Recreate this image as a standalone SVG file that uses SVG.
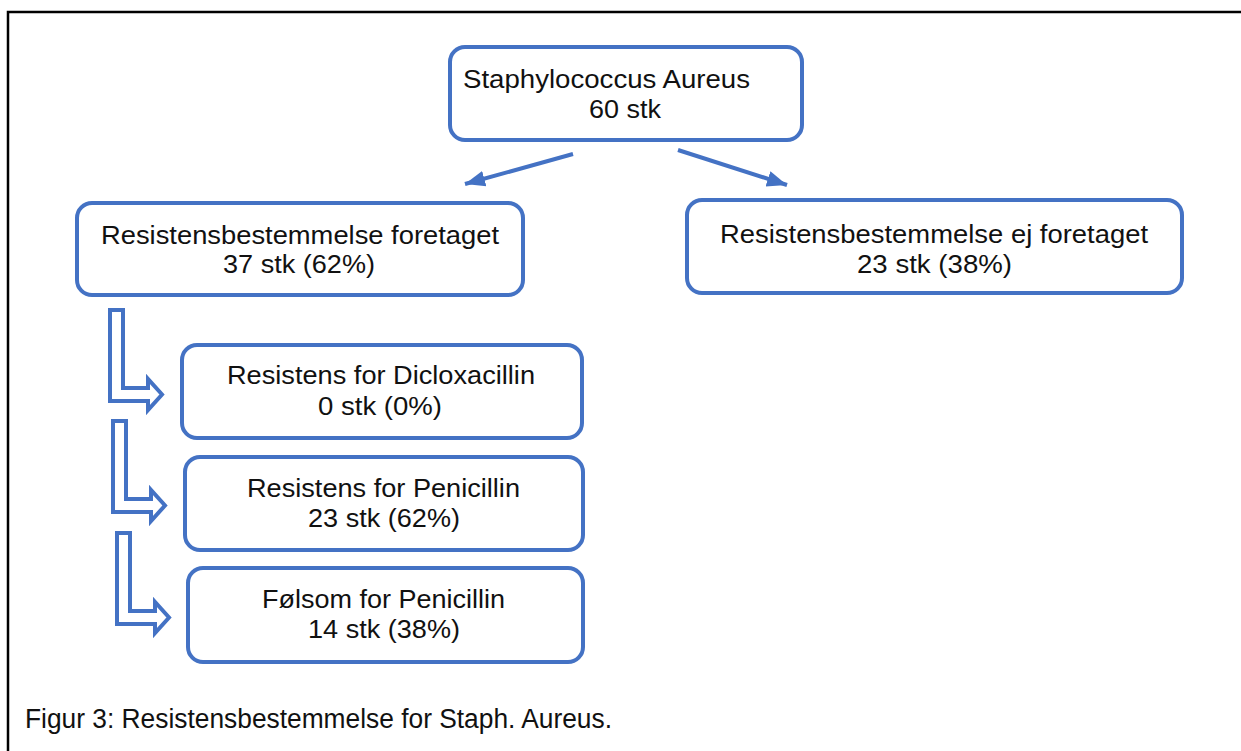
<svg xmlns="http://www.w3.org/2000/svg" width="1241" height="751" viewBox="0 0 1241 751">
<style>
.box{fill:#fff;stroke:#4472C4;stroke-width:4}
.t{font-family:"Liberation Sans",Arial,sans-serif;font-size:25.5px;fill:#111}
.cap{font-family:"Liberation Sans",Arial,sans-serif;font-size:27px;fill:#111}
.conn{stroke:#4472C4;stroke-width:4;fill:none}
.blk{fill:#fff;stroke:#4472C4;stroke-width:4;stroke-linejoin:miter}
</style>
<defs>
<marker id="ah" markerUnits="userSpaceOnUse" markerWidth="22" markerHeight="22" viewBox="0 0 22 22" refX="20" refY="11" orient="auto">
<path d="M0,3 L20,11 L0,19 Z" fill="#4472C4"/>
</marker>
</defs>
<rect width="1241" height="751" fill="#fff"/>
<path d="M8,760 L8,12 L1250,12" fill="none" stroke="#000" stroke-width="2.5"/>

<g id="connectors">
<line class="conn" x1="573" y1="154" x2="465" y2="184" marker-end="url(#ah)"/>
<line class="conn" x1="678" y1="150" x2="787" y2="185" marker-end="url(#ah)"/>
<path class="blk" d="M110,310 L123,310 L123,388 L148,388 L148,379 L162,394.5 L148,410 L148,401 L110,401 Z"/>
<path class="blk" transform="translate(3,111)" d="M110,310 L123,310 L123,388 L148,388 L148,379 L162,394.5 L148,410 L148,401 L110,401 Z"/>
<path class="blk" transform="translate(7,223)" d="M110,310 L123,310 L123,388 L148,388 L148,379 L162,394.5 L148,410 L148,401 L110,401 Z"/>
</g>

<g id="n-staph">
<rect class="box" x="450" y="47" width="352" height="93" rx="15"/>
<text class="t" x="463" y="88" textLength="287" lengthAdjust="spacingAndGlyphs">Staphylococcus Aureus</text>
<text class="t" x="589" y="118" textLength="72" lengthAdjust="spacingAndGlyphs">60 stk</text>
</g>

<g id="n-foretaget">
<rect class="box" x="77" y="203" width="446" height="92" rx="15"/>
<text class="t" x="101" y="244" textLength="398" lengthAdjust="spacingAndGlyphs">Resistensbestemmelse foretaget</text>
<text class="t" x="223" y="273" textLength="152" lengthAdjust="spacingAndGlyphs">37 stk (62%)</text>
</g>

<g id="n-ej">
<rect class="box" x="687" y="200" width="495" height="93" rx="15"/>
<text class="t" x="720" y="243" textLength="428" lengthAdjust="spacingAndGlyphs">Resistensbestemmelse ej foretaget</text>
<text class="t" x="857" y="273" textLength="155" lengthAdjust="spacingAndGlyphs">23 stk (38%)</text>
</g>

<g id="n-diclox">
<rect class="box" x="182" y="345" width="400" height="93" rx="15"/>
<text class="t" x="227" y="384" textLength="308" lengthAdjust="spacingAndGlyphs">Resistens for Dicloxacillin</text>
<text class="t" x="318" y="415" textLength="124" lengthAdjust="spacingAndGlyphs">0 stk (0%)</text>
</g>

<g id="n-penres">
<rect class="box" x="185" y="457" width="398" height="93" rx="15"/>
<text class="t" x="247" y="497" textLength="273" lengthAdjust="spacingAndGlyphs">Resistens for Penicillin</text>
<text class="t" x="308" y="527" textLength="152" lengthAdjust="spacingAndGlyphs">23 stk (62%)</text>
</g>

<g id="n-folsom">
<rect class="box" x="188" y="568" width="395" height="94" rx="15"/>
<text class="t" x="262" y="608" textLength="243" lengthAdjust="spacingAndGlyphs">Følsom for Penicillin</text>
<text class="t" x="308" y="638" textLength="152" lengthAdjust="spacingAndGlyphs">14 stk (38%)</text>
</g>

<text class="cap" x="25" y="728" textLength="587" lengthAdjust="spacingAndGlyphs">Figur 3: Resistensbestemmelse for Staph. Aureus.</text>
</svg>
